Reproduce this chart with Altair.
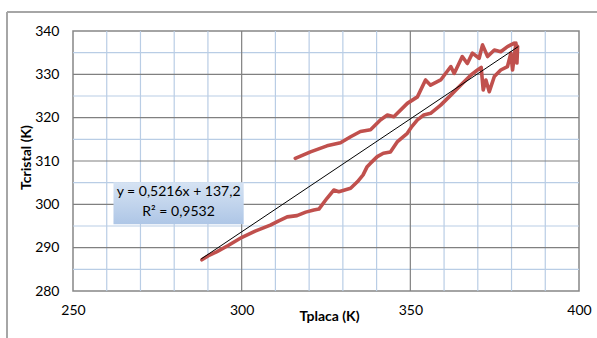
import altair as alt
import pandas as pd

# Lower branch (heating) then upper branch (return)
tplaca = [288.2, 290.5, 292.7, 296.0, 300.1, 304.0, 308.5, 311.0, 313.5, 316.4,
          319.0, 321.4, 322.9, 325.3, 327.3, 328.8, 332.3, 334.3, 336.0, 337.2,
          338.2, 340.2, 342.0, 344.1, 346.1, 349.1, 350.5, 352.1, 354.0, 356.0,
          359.0, 362.0, 364.9, 367.9, 369.9, 371.0, 371.6, 372.4, 373.4, 374.9,
          376.8, 378.8, 379.8, 380.3, 381.3, 381.6, 381.8, 380.8,
          378.8, 376.8, 374.9, 372.9, 371.4, 370.4, 368.4, 366.9, 365.4, 363.0,
          362.0, 359.0, 356.0, 354.5, 352.1, 349.1, 345.1, 343.2, 341.2, 338.2,
          335.2, 332.3, 329.3, 325.3, 320.4, 315.9]
tcristal = [287.2, 288.3, 289.1, 290.5, 292.4, 293.8, 295.2, 296.2, 297.1, 297.4,
            298.2, 298.7, 298.9, 301.4, 303.3, 302.9, 303.7, 305.2, 306.8, 308.7,
            309.5, 311.0, 311.8, 312.1, 314.4, 316.4, 318.0, 319.5, 320.6, 321.0,
            322.9, 325.2, 327.5, 329.8, 331.0, 331.6, 326.4, 328.7, 326.0, 329.5,
            331.0, 331.8, 334.9, 331.0, 337.2, 332.6, 336.4, 337.2,
            336.4, 335.2, 335.6, 334.1, 336.8, 333.7, 334.9, 332.5, 334.1, 330.2,
            331.8, 328.7, 327.5, 328.7, 324.8, 323.3, 320.2, 320.6, 319.5, 317.2,
            316.8, 315.6, 314.2, 313.5, 312.1, 310.6]

trend_x = [288.0, 382.0]
trend_y = [287.4, 336.4]

x_minor = [260, 270, 280, 290, 310, 320, 330, 340, 360, 370, 380, 390]
x_major = [300, 350]
y_minor = [285, 295, 305, 315, 325, 335]
y_major = [290, 300, 310, 320, 330]

x_ticks = [250, 300, 350, 400]
y_ticks = [280, 290, 300, 310, 320, 330, 340]

eq_lines = ["y = 0,5216x + 137,2", "R\u00b2 = 0,9532"]
eq_y = [302.9, 298.3]
box_x, box_x2, box_y, box_y2 = 262.0, 300.6, 305.1, 295.4

FONT = "Lato"

data = pd.DataFrame({"Tplaca": tplaca, "Tcristal": tcristal,
                     "i": list(range(len(tplaca)))})
trend = pd.DataFrame({"Tplaca": trend_x, "Tcristal": trend_y})

xs = alt.Scale(domain=[250, 400], nice=False, zero=False)
ys = alt.Scale(domain=[280, 340], nice=False, zero=False)

xaxis = alt.Axis(values=x_ticks, grid=False, ticks=False, domain=False,
                 labelFont=FONT, labelFontSize=14, labelColor="#000000",
                 labelPadding=12, labelFlush=False,
                 title="Tplaca (K)", titleFont=FONT, titleFontSize=14,
                 titleFontWeight="bold", titleColor="#000000",
                 titleX=256, titleY=18, titleBaseline="top")
yaxis = alt.Axis(values=y_ticks, grid=False, ticks=False, domain=False,
                 labelFont=FONT, labelFontSize=14, labelColor="#000000",
                 labelPadding=14, labelFlush=False,
                 title="Tcristal (K)", titleFont=FONT, titleFontSize=14,
                 titleFontWeight="bold", titleColor="#000000",
                 titleX=-47, titleY=126, titleBaseline="middle", titleAlign="center")

xminor = alt.Chart(pd.DataFrame({"v": x_minor})).mark_rule(
    color="#b9cde5", strokeWidth=1.2).encode(
    x=alt.X("v:Q", scale=xs, axis=xaxis))
yminor = alt.Chart(pd.DataFrame({"v": y_minor})).mark_rule(
    color="#b9cde5", strokeWidth=1.2).encode(
    y=alt.Y("v:Q", scale=ys, axis=yaxis))
xmajor = alt.Chart(pd.DataFrame({"v": x_major})).mark_rule(
    color="#808080", strokeWidth=1.2).encode(x=alt.X("v:Q", scale=xs))
ymajor = alt.Chart(pd.DataFrame({"v": y_major})).mark_rule(
    color="#808080", strokeWidth=1.2).encode(y=alt.Y("v:Q", scale=ys))

curve = alt.Chart(data).mark_line(
    color="#c0504d", strokeWidth=3.6, strokeCap="round", strokeJoin="round",
    interpolate="linear").encode(
    x=alt.X("Tplaca:Q", scale=xs),
    y=alt.Y("Tcristal:Q", scale=ys),
    order="i:Q")

trendline = alt.Chart(trend).mark_line(color="#000000", strokeWidth=1).encode(
    x=alt.X("Tplaca:Q", scale=xs), y=alt.Y("Tcristal:Q", scale=ys))

box = alt.Chart(pd.DataFrame({"x": [box_x], "x2": [box_x2],
                              "y": [box_y], "y2": [box_y2]})).mark_rect(
    color={"x1": 0, "y1": 0, "x2": 0, "y2": 1, "gradient": "linear",
           "stops": [{"offset": 0, "color": "#d6e3f3"},
                     {"offset": 1, "color": "#aec6e6"}]},
    opacity=1).encode(
    x=alt.X("x:Q", scale=xs), x2="x2:Q",
    y=alt.Y("y:Q", scale=ys), y2="y2:Q")

eq = alt.Chart(pd.DataFrame({"t": eq_lines, "y": eq_y,
                             "x": [(box_x + box_x2) / 2] * 2})).mark_text(
    font=FONT, fontSize=14, color="#000000", align="center",
    baseline="middle").encode(
    x=alt.X("x:Q", scale=xs), y=alt.Y("y:Q", scale=ys), text="t:N")

frame_left = alt.Chart(pd.DataFrame({"a": [0]})).mark_rule(
    color="#a6a6a6", strokeWidth=2).encode(
    x=alt.value(-66), y=alt.value(-19), y2=alt.value(330))
frame_top = alt.Chart(pd.DataFrame({"a": [0]})).mark_rule(
    color="#a6a6a6", strokeWidth=2).encode(
    x=alt.value(-66), x2=alt.value(540), y=alt.value(-19))

chart = alt.layer(xminor, yminor, xmajor, ymajor, curve, trendline, box, eq,
                  frame_left, frame_top).properties(
    width=506, height=260,
    autosize=alt.AutoSizeParams(type="none"),
    padding={"left": 73, "top": 31, "right": 18, "bottom": 47},
    background="#ffffff"
).configure_view(stroke="#868686", strokeWidth=1.5)

chart.save("out.html", embed_options={"renderer": "svg", "actions": False})
